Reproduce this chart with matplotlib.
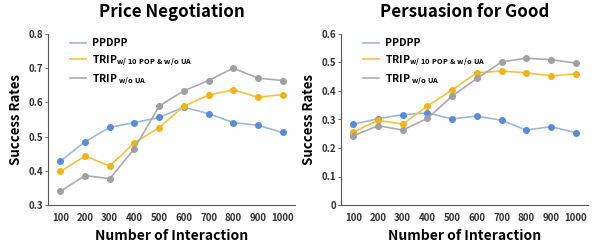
import matplotlib.pyplot as plt

interactions = [100, 200, 300, 400, 500, 600, 700, 800, 900, 1000]
tick_labels = [str(x) for x in interactions]

# Price Negotiation
pn_ppdpp = [0.428, 0.485, 0.527, 0.541, 0.556, 0.586, 0.567, 0.541, 0.533, 0.512]
pn_trip_pop = [0.398, 0.443, 0.414, 0.482, 0.526, 0.589, 0.621, 0.637, 0.615, 0.623]
pn_trip_noua = [0.340, 0.386, 0.377, 0.465, 0.589, 0.634, 0.664, 0.700, 0.671, 0.664]

# Persuasion for Good
pg_ppdpp = [0.283, 0.303, 0.317, 0.323, 0.302, 0.312, 0.297, 0.263, 0.275, 0.254]
pg_trip_pop = [0.256, 0.297, 0.284, 0.347, 0.404, 0.464, 0.470, 0.464, 0.453, 0.460]
pg_trip_noua = [0.243, 0.278, 0.263, 0.304, 0.382, 0.444, 0.502, 0.515, 0.510, 0.498]

plt.rcParams['font.family'] = ['Noto Sans CJK SC', 'DejaVu Sans']
plt.rcParams['mathtext.fontset'] = 'custom'
plt.rcParams['mathtext.rm'] = 'Noto Sans CJK SC:bold'
plt.rcParams['mathtext.bf'] = 'Noto Sans CJK SC:bold'

fig = plt.figure(figsize=(5.92, 2.48), dpi=100)
ax1 = fig.add_axes([48 / 592, 43 / 248, 247 / 592, 171 / 248])
ax2 = fig.add_axes([341 / 592, 43 / 248, 247 / 592, 171 / 248])

labels = ['PPDPP', r'TRIP$_{\mathrm{w/\ 10\ POP\ &\ w/o\ UA}}$', r'TRIP$_{\mathrm{\ w/o\ UA}}$']
blue_line, blue_mk = '#9DB7E0', '#5B8BD6'
yel_line, yel_mk = '#F5C242', '#F0B418'
gray_line, gray_mk = '#ABABAB', '#A0A0A0'


def draw(ax, s1, s2, s3, title, ylim, yticks, ytl):
    xs = list(range(len(interactions)))
    ax.plot(xs, s1, color=blue_line, lw=1.2)
    ax.plot(xs, s1, 'o', color=blue_mk, ms=4)
    ax.plot(xs, s2, color=yel_line, lw=1.2)
    ax.plot(xs, s2, 'o', color=yel_mk, ms=4)
    ax.plot(xs, s3, color=gray_line, lw=1.2)
    ax.plot(xs, s3, 'o', color=gray_mk, ms=4)
    # legend handles: lines only
    h1, = ax.plot([], [], color=blue_line, lw=1.2)
    h2, = ax.plot([], [], color=yel_line, lw=1.2)
    h3, = ax.plot([], [], color=gray_line, lw=1.2)
    ax.legend([h1, h2, h3], labels, loc='upper left', frameon=False,
              handlelength=1.6, handletextpad=0.5, bbox_to_anchor=(0.05, 1.03),
              labelspacing=0.5, prop={'weight': 'bold', 'size': 7.5})
    ax.set_xlim(-0.5, len(interactions) - 0.5)
    ax.set_ylim(*ylim)
    ax.set_xticks(xs)
    ax.set_xticklabels(tick_labels, fontsize=7, fontweight='bold', color='#333333')
    ax.set_yticks(yticks)
    ax.set_yticklabels(ytl, fontsize=7, fontweight='bold', color='#333333')
    ax.tick_params(axis='x', length=0, pad=6)
    ax.tick_params(axis='y', length=2, width=0.6, color='#555555', pad=1.5)
    for s in ['top', 'right']:
        ax.spines[s].set_visible(False)
    for s in ['left', 'bottom']:
        ax.spines[s].set_color('#555555')
        ax.spines[s].set_linewidth(0.8)
    ax.set_title(title, fontsize=12.2, fontweight='bold', pad=12)
    ax.set_xlabel('Number of Interaction', fontsize=10, fontweight='bold', labelpad=4)
    ax.set_ylabel('Success Rates', fontsize=9.5, fontweight='bold', labelpad=4)


draw(ax1, pn_ppdpp, pn_trip_pop, pn_trip_noua, 'Price Negotiation',
     (0.3, 0.8), [0.3, 0.4, 0.5, 0.6, 0.7, 0.8], ['0.3', '0.4', '0.5', '0.6', '0.7', '0.8'])
draw(ax2, pg_ppdpp, pg_trip_pop, pg_trip_noua, 'Persuasion for Good',
     (0, 0.6), [0, 0.1, 0.2, 0.3, 0.4, 0.5, 0.6], ['0', '0.1', '0.2', '0.3', '0.4', '0.5', '0.6'])

fig.savefig('out.png', dpi=100)
